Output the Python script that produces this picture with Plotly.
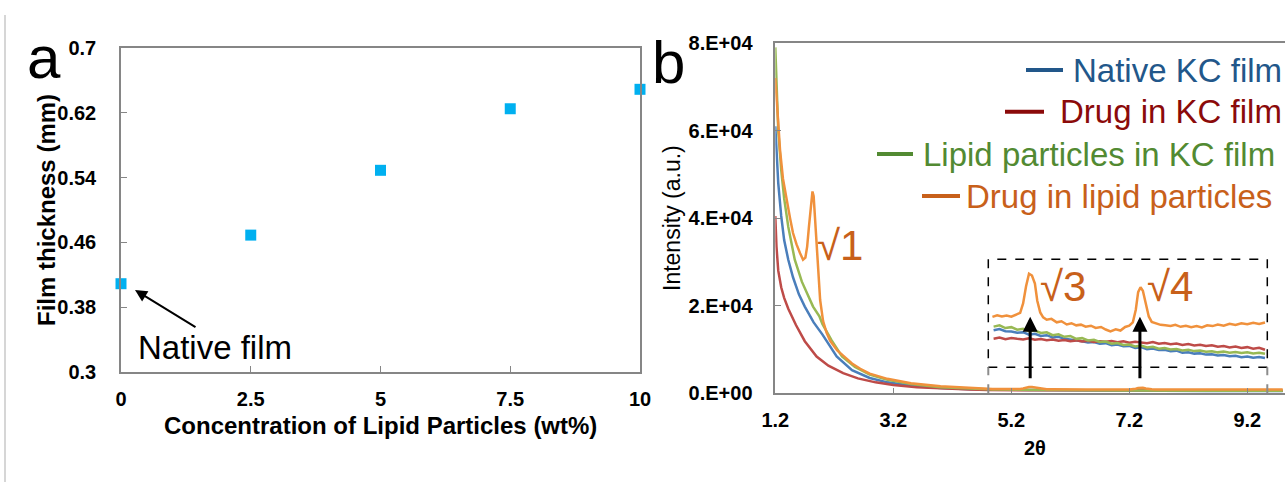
import plotly.graph_objects as go

W, H = 1285, 482

# ---------------- Panel a data ----------------
conc = [0, 2.5, 5, 7.5, 10]
thickness = [0.409, 0.469, 0.549, 0.625, 0.649]
a_xticks = [0, 2.5, 5, 7.5, 10]
a_xticktext = ["0", "2.5", "5", "7.5", "10"]
a_yticks = [0.3, 0.38, 0.46, 0.54, 0.62, 0.7]
a_yticktext = ["0.3", "0.38", "0.46", "0.54", "0.62", "0.7"]

# ---------------- Panel b data ----------------
b_xticks = [1.2, 3.2, 5.2, 7.2, 9.2]
b_xticktext = ["1.2", "3.2", "5.2", "7.2", "9.2"]
b_yticks = [0, 20000, 40000, 60000, 80000]
b_yticktext = ["0.E+00", "2.E+04", "4.E+04", "6.E+04", "8.E+04"]

# low-angle part
native_x_low = [1.20, 1.22, 1.25, 1.30, 1.35, 1.42, 1.50, 1.60, 1.70, 1.85, 2.00, 2.24, 2.50, 2.80, 3.10, 3.50, 4.00, 4.50]
native_y_low = [61000, 55000, 48000, 40500, 35000, 30500, 26500, 22600, 19800, 16200, 13400, 8400, 5300, 3500, 2500, 1700, 1200, 950]

drug_x_low = [1.20, 1.22, 1.25, 1.30, 1.35, 1.42, 1.55, 1.70, 1.90, 2.10, 2.35, 2.60, 2.90, 3.20, 3.60, 4.00, 4.50]
drug_y_low = [40500, 33500, 28000, 24200, 21800, 19300, 15600, 11900, 8400, 6300, 4600, 3400, 2500, 1900, 1400, 1100, 850]

lipid_x_low = [1.20, 1.22, 1.25, 1.30, 1.35, 1.42, 1.53, 1.65, 1.84, 1.95, 2.00, 2.15, 2.33, 2.55, 2.80, 3.10, 3.50, 4.00, 4.50]
lipid_y_low = [79000, 70000, 60000, 51000, 44500, 38000, 30500, 25500, 19800, 17500, 15800, 12200, 8400, 6000, 4300, 3100, 2100, 1400, 1000]

dlp_x_low = [1.20, 1.24, 1.28, 1.33, 1.39, 1.45, 1.50, 1.56, 1.62, 1.67, 1.71, 1.74, 1.77, 1.80, 1.83, 1.85, 1.87, 1.91, 1.96, 2.01, 2.07, 2.13, 2.25, 2.35, 2.50, 2.64, 2.80, 3.10, 3.50, 4.00, 4.50]
dlp_y_low = [72000, 63000, 55600, 49000, 44200, 40000, 36600, 34000, 32000, 30500, 31000, 33500, 38000, 42650, 46100, 45000, 41100, 32000, 21300, 16500, 13800, 12000, 9800, 8600, 6800, 5600, 4500, 3300, 2300, 1600, 1150]

# high-angle part, 2theta 4.8 - 9.8
hi_x = [4.8, 4.9, 5.0, 5.1, 5.2, 5.3, 5.4, 5.5, 5.6, 5.7, 5.8, 5.9, 6.0, 6.1, 6.2, 6.3, 6.4, 6.5, 6.6, 6.7,
        6.8, 6.9, 7.0, 7.1, 7.2, 7.3, 7.4, 7.5, 7.6, 7.7, 7.8, 7.9, 8.0, 8.1, 8.2, 8.3, 8.4, 8.5, 8.6, 8.7,
        8.8, 8.9, 9.0, 9.1, 9.2, 9.3, 9.4, 9.5, 9.6, 9.7, 9.8]
native_y_hi = [845, 812, 826, 801, 797, 784, 790, 762, 772, 748, 757, 731, 738, 716, 709, 694, 690, 676, 681, 661,
               668, 645, 652, 633, 638, 615, 624, 602, 608, 592, 594, 578, 585, 561, 568, 552, 557, 541, 546, 531,
               537, 522, 528, 513, 521, 507, 514, 503, 511, 499, 507]
drug_y_hi = [732, 718, 730, 712, 726, 716, 708, 722, 706, 713, 700, 709, 694, 704, 690, 699, 686, 694, 681, 690,
             684, 692, 678, 688, 672, 684, 676, 668, 680, 662, 671, 656, 664, 648, 659, 643, 651, 636, 644, 628,
             637, 620, 631, 614, 624, 606, 617, 595, 605, 590, 598]
lipid_y_hi = [878, 852, 866, 836, 846, 818, 829, 800, 808, 781, 789, 757, 766, 739, 748, 716, 724, 698, 706, 681,
              687, 662, 670, 648, 652, 632, 641, 620, 628, 606, 614, 597, 603, 588, 595, 580, 587, 573, 579, 566,
              574, 561, 570, 558, 566, 554, 561, 551, 558, 548, 555]

dlp_x_hi = [4.80, 4.88, 4.96, 5.04, 5.12, 5.20, 5.28, 5.35, 5.40, 5.45, 5.50, 5.55, 5.60, 5.64, 5.69, 5.74, 5.80, 5.88, 5.97, 6.05,
            6.14, 6.22, 6.30, 6.38, 6.46, 6.55, 6.63, 6.72, 6.80, 6.88, 6.97, 7.05, 7.13, 7.20, 7.26, 7.31, 7.35, 7.39, 7.43, 7.48,
            7.53, 7.58, 7.65, 7.73, 7.81, 7.90, 7.98, 8.07, 8.16, 8.25, 8.34, 8.43, 8.52, 8.61, 8.70, 8.80, 8.90, 9.00, 9.10, 9.20,
            9.30, 9.40, 9.50, 9.60, 9.70, 9.80]
dlp_y_hi = [972, 960, 978, 965, 975, 962, 984, 1005, 1110, 1300, 1440, 1420, 1330, 1140, 1010, 955, 928, 938, 900, 912,
            876, 890, 866, 874, 852, 862, 838, 848, 820, 800, 822, 808, 848, 862, 900, 1040, 1235, 1290, 1250, 1100,
            965, 905, 890, 872, 866, 858, 872, 850, 862, 846, 858, 842, 866, 858, 875, 862, 884, 870, 890, 878,
            894, 882, 898, 886, 893, 884]

native_x = native_x_low + hi_x
native_y = native_y_low + native_y_hi
drug_x = drug_x_low + hi_x
drug_y = drug_y_low + drug_y_hi
lipid_x = lipid_x_low + hi_x
lipid_y = lipid_y_low + lipid_y_hi
dlp_x = dlp_x_low + dlp_x_hi
dlp_y = dlp_y_low + dlp_y_hi

series_names = ["Native KC film", "Drug in KC film", "Lipid particles in KC film", "Drug in lipid particles"]
series_x = [native_x, drug_x, lipid_x, dlp_x]
series_y = [native_y, drug_y, lipid_y, dlp_y]
line_colors = ["#4A7EBB", "#BE4B48", "#98B954", "#F0913C"]
legend_colors = ["#22578A", "#8B0A0A", "#528A32", "#C8601A"]

inset_xrange = [4.81, 9.539]
inset_yrange = [400, 1600]
peak_labels = ["\u221a1", "\u221a3", "\u221a4"]
peak_label_x = [2.30, 6.08, 7.89]
peak_label_y = [33700, 24500, 24300]
arrow_x = [5.52, 7.38]


def px(x):
    return x / W


def py(y):
    return 1 - y / H


FONT = "Liberation Sans, Arial, sans-serif"
AXIS_GREY = "#868686"

fig = go.Figure()

# panel a markers
fig.add_trace(go.Scatter(x=conc, y=thickness, mode="markers", xaxis="x", yaxis="y",
                         marker=dict(symbol="square", size=11, color="#00B0F0"),
                         cliponaxis=False, showlegend=False))

# panel b main curves
for xs, ys, c, n in zip(series_x, series_y, line_colors, series_names):
    fig.add_trace(go.Scatter(x=xs, y=ys, mode="lines", xaxis="x2", yaxis="y2",
                             line=dict(color=c, width=2.5), name=n, showlegend=False))

# inset curves (same data, magnified)
for xs, ys, c, n in zip(series_x, series_y, line_colors, series_names):
    sx = [x for x in xs if inset_xrange[0] <= x <= inset_xrange[1] + 0.01]
    sy = [y for x, y in zip(xs, ys) if inset_xrange[0] <= x <= inset_xrange[1] + 0.01]
    fig.add_trace(go.Scatter(x=sx, y=sy, mode="lines", xaxis="x3", yaxis="y3",
                             line=dict(color=c, width=2.5), name=n, showlegend=False))

tickfont = dict(family=FONT, size=20, color="black", weight="bold")

common_ax = dict(showline=True, linecolor=AXIS_GREY, linewidth=1.5, ticks="inside", ticklen=6,
                 tickcolor=AXIS_GREY, tickwidth=1.2, showgrid=False, zeroline=False, tickfont=tickfont,
                 automargin=False)

fig.update_layout(
    width=W, height=H,
    margin=dict(l=0, r=0, t=0, b=0),
    paper_bgcolor="white", plot_bgcolor="white",
    showlegend=False,
    xaxis=dict(domain=[px(121), px(640)], range=[0, 10], tickvals=a_xticks, ticktext=a_xticktext,
               mirror=True, anchor="y", ticklabelstandoff=8, **common_ax),
    yaxis=dict(domain=[py(372), py(48)], range=[0.3, 0.7], tickvals=a_yticks, ticktext=a_yticktext,
               mirror=True, anchor="x", ticklabelstandoff=19, **common_ax),
    xaxis2=dict(domain=[px(775.3), 1], range=[1.2, 9.839], tickvals=b_xticks, ticktext=b_xticktext,
                mirror=True, anchor="y2", ticklabelstandoff=8, **common_ax),
    yaxis2=dict(domain=[py(393.3), py(43)], range=[0, 80000], tickvals=b_yticks, ticktext=b_yticktext,
                mirror=False, anchor="x2", ticklabelstandoff=17, **common_ax),
    xaxis3=dict(domain=[px(988.3), px(1267.3)], range=inset_xrange, visible=False, anchor="y3",
                automargin=False),
    yaxis3=dict(domain=[py(367.3), py(259.3)], range=inset_yrange, visible=False, anchor="x3",
                automargin=False),
)

shapes = []
# image frame line on the left
shapes.append(dict(type="line", xref="paper", yref="paper", x0=px(5), x1=px(5), y0=py(15), y1=0,
                   line=dict(color="#C8C8C8", width=1.5)))
# inset dashed box
shapes.append(dict(type="rect", xref="x3 domain", yref="y3 domain", x0=0, x1=1, y0=0, y1=1,
                   line=dict(color="black", width=1.5, dash="dash")))
# grey dashed connectors
for xv in inset_xrange:
    shapes.append(dict(type="line", xref="x2", yref="paper", x0=xv, x1=xv, y0=py(393.3), y1=py(367.3),
                       line=dict(color="#8C8C8C", width=2, dash="dash")))
# legend line segments
legend_seg = [(1026, 1063, 70), (1005, 1044, 111.7), (877, 913, 154), (922, 960, 196)]
for (x0, x1, yy), c in zip(legend_seg, legend_colors):
    shapes.append(dict(type="line", xref="paper", yref="paper", x0=px(x0), x1=px(x1), y0=py(yy), y1=py(yy),
                       line=dict(color=c, width=4)))
fig.update_layout(shapes=shapes)

ann = []
# panel letters
ann.append(dict(text="a", xref="paper", yref="paper", x=px(44), y=py(57), xanchor="center", yanchor="middle",
                showarrow=False, font=dict(family=FONT, size=60, color="black")))
ann.append(dict(text="b", xref="paper", yref="paper", x=px(668), y=py(63), xanchor="center", yanchor="middle",
                showarrow=False, font=dict(family=FONT, size=60, color="black")))
# axis titles
ann.append(dict(text="Film thickness (mm)", xref="paper", yref="paper", x=px(46), y=py(210), textangle=-90,
                xanchor="center", yanchor="middle", showarrow=False,
                font=dict(family=FONT, size=24, color="black", weight="bold")))
ann.append(dict(text="Concentration of Lipid Particles (wt%)", xref="paper", yref="paper", x=px(380), y=py(425),
                xanchor="center", yanchor="middle", showarrow=False,
                font=dict(family=FONT, size=24, color="black", weight="bold")))
ann.append(dict(text="Intensity (a.u.)", xref="paper", yref="paper", x=px(672), y=py(218), textangle=-90,
                xanchor="center", yanchor="middle", showarrow=False,
                font=dict(family=FONT, size=23, color="black")))
ann.append(dict(text="2\u03b8", xref="paper", yref="paper", x=px(1035), y=py(448),
                xanchor="center", yanchor="middle", showarrow=False,
                font=dict(family=FONT, size=20, color="black", weight="bold")))
# Native film label + arrow
ann.append(dict(text="Native film", xref="paper", yref="paper", x=px(215), y=py(347),
                xanchor="center", yanchor="middle", showarrow=False,
                font=dict(family=FONT, size=33, color="black")))
ann.append(dict(text="", xref="x", yref="y", x=0.27, y=0.4012, ax=62, ay=38, showarrow=True,
                arrowhead=2, arrowsize=1.2, arrowwidth=2, arrowcolor="black", standoff=0))
# legend texts
legend_text_x = [1071, 1058, 921, 964]
for name, c, xt, (x0, x1, yy) in zip(series_names, legend_colors, legend_text_x, legend_seg):
    ann.append(dict(text=name, xref="paper", yref="paper", x=px(xt), y=py(yy), xanchor="left", yanchor="middle",
                    showarrow=False, font=dict(family=FONT, size=33, color=c)))
# peak labels
for t, xv, yv in zip(peak_labels, peak_label_x, peak_label_y):
    ann.append(dict(text=t, xref="x2", yref="y2", x=xv, y=yv, xanchor="center", yanchor="middle",
                    showarrow=False, font=dict(family=FONT, size=42, color=legend_colors[3])))
# arrows in inset
for xv in arrow_x:
    ann.append(dict(text="", xref="x2", yref="y2", x=xv, y=17500, ax=0, ay=63, showarrow=True,
                    arrowhead=2, arrowsize=1, arrowwidth=3, arrowcolor="black", standoff=0))
fig.update_layout(annotations=ann)

fig.write_html("out.html", config={"displayModeBar": False},
               post_script="document.body.style.margin='0px';")
